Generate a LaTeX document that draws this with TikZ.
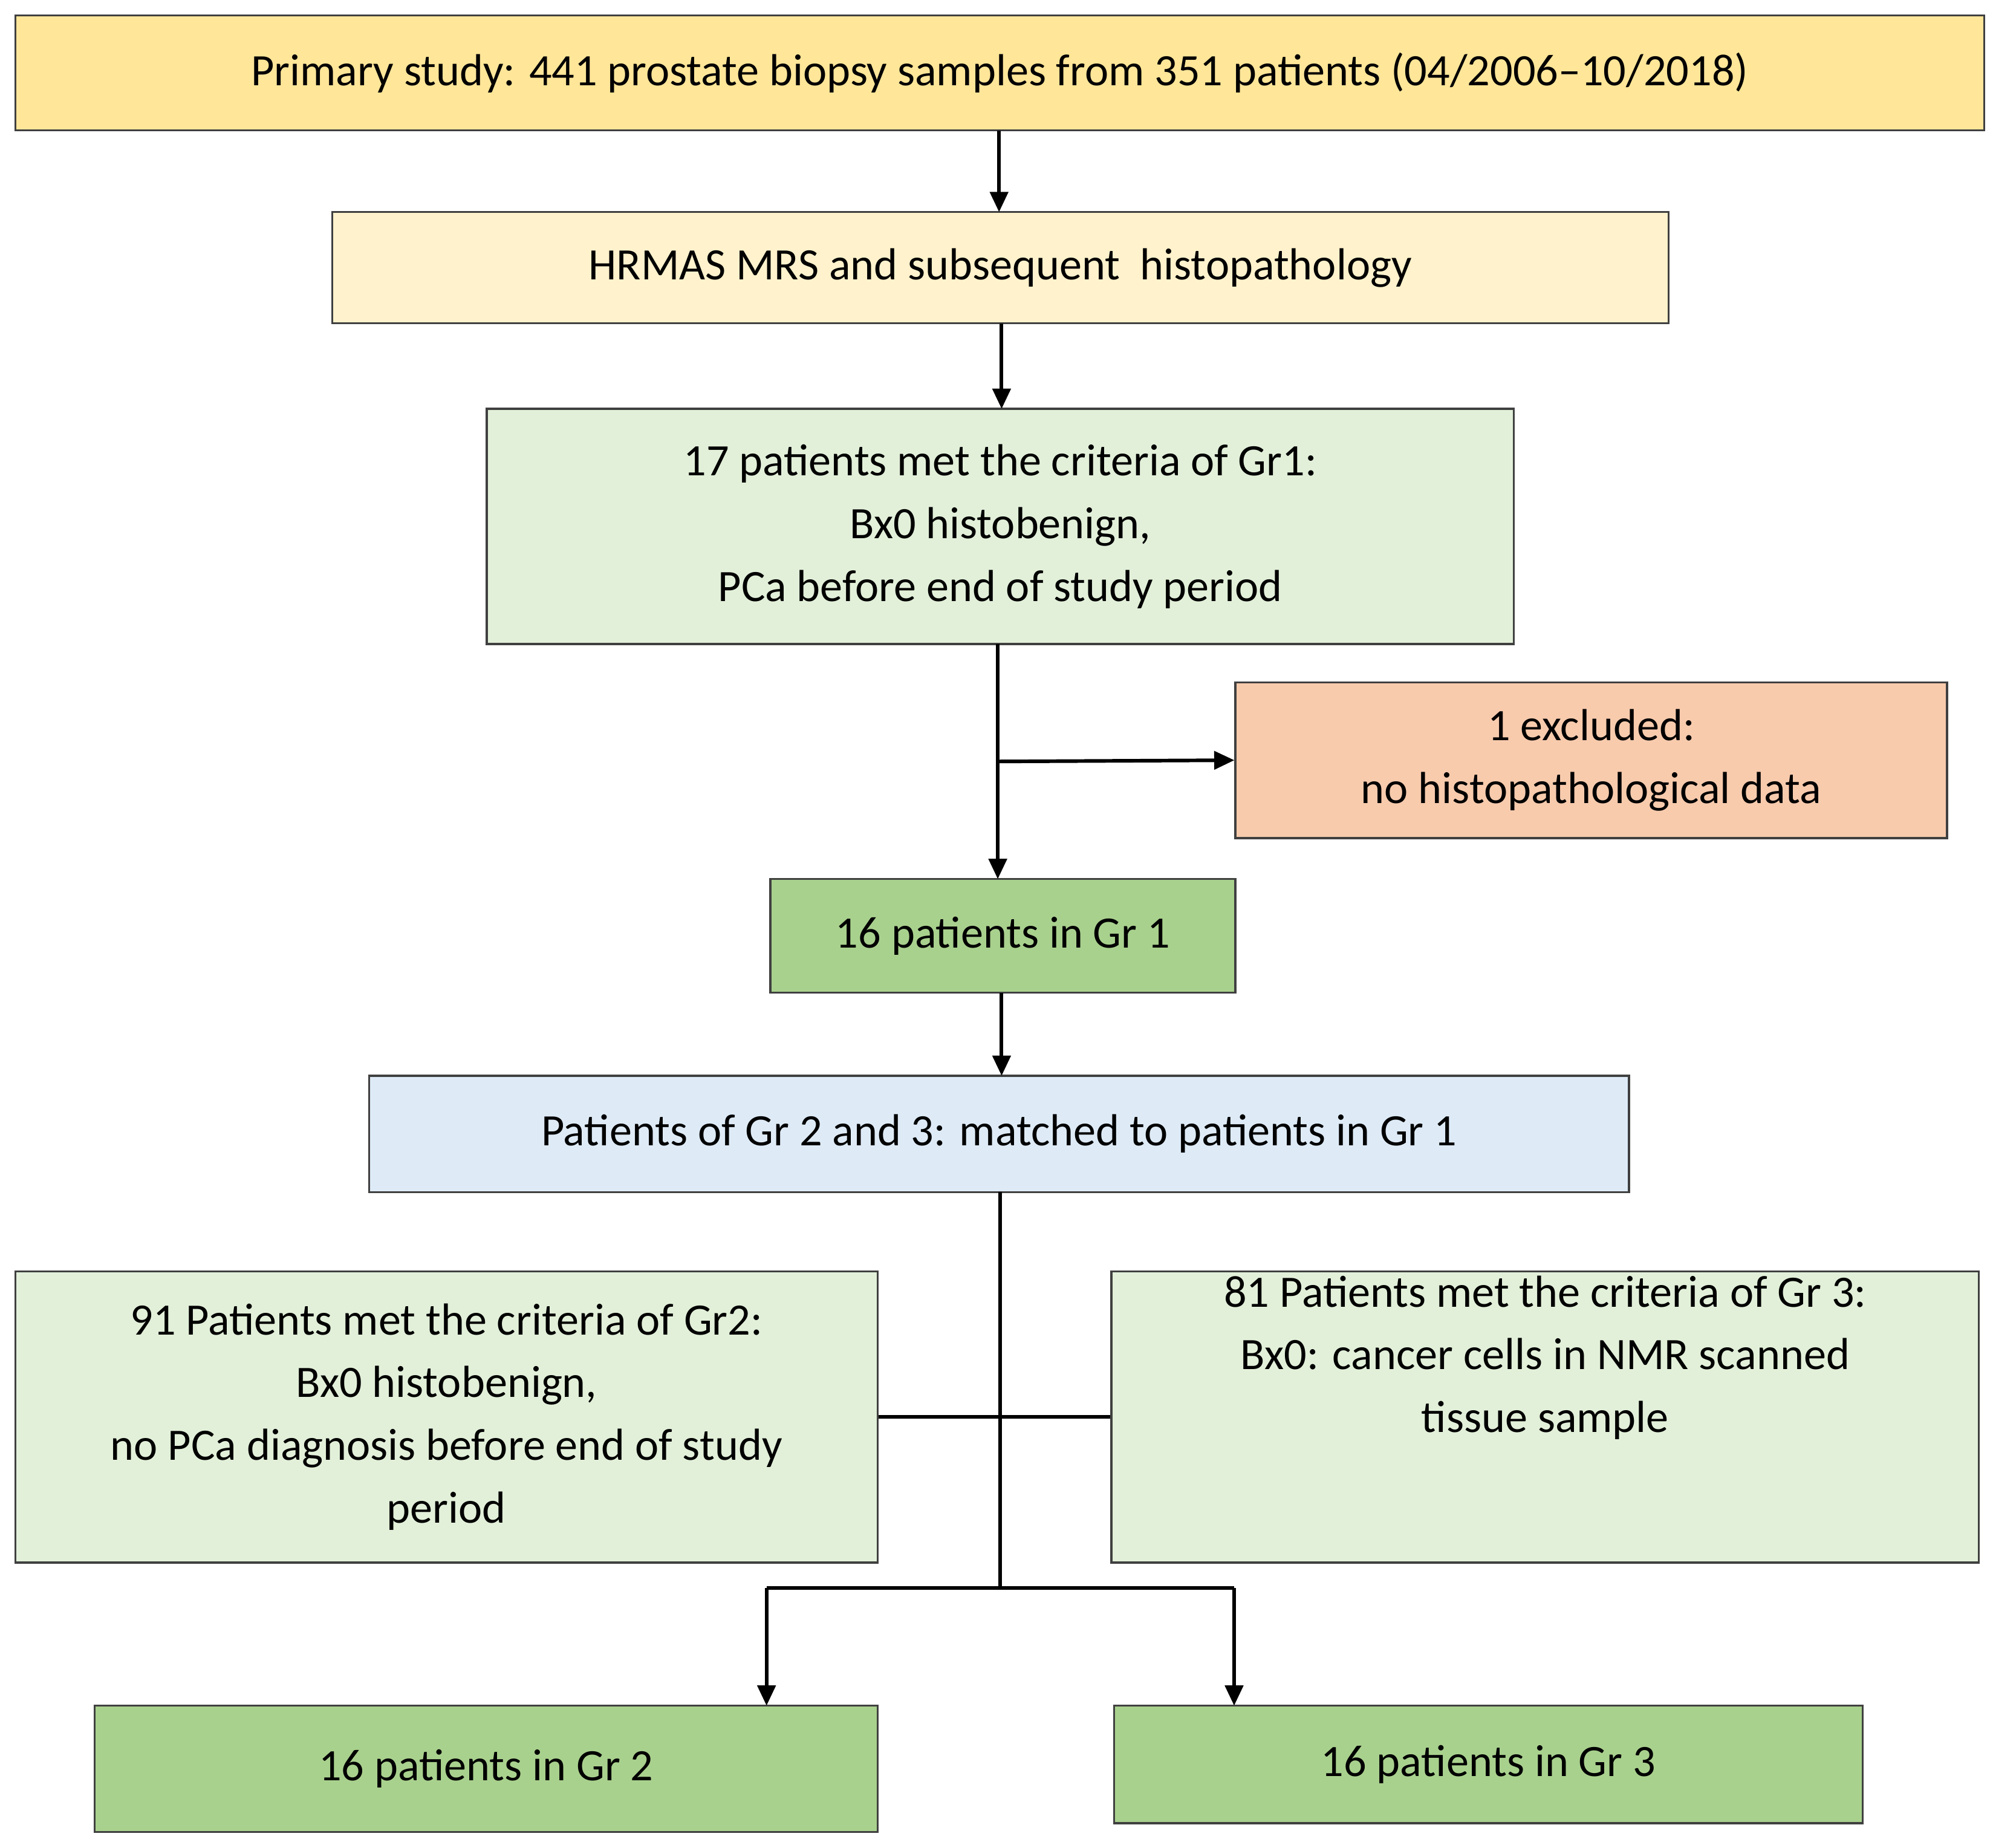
\documentclass[tikz,border=0pt]{standalone}
\usepackage{fontspec}
\setmainfont{Carlito}
\usetikzlibrary{arrows.meta}
\definecolor{cgold}{HTML}{FFE699}
\definecolor{cpale}{HTML}{FFF2CC}
\definecolor{cgl}{HTML}{E2F0D9}
\definecolor{cgd}{HTML}{A9D18E}
\definecolor{cor}{HTML}{F8CBAD}
\definecolor{cbl}{HTML}{DEEBF7}
\begin{document}
\begin{tikzpicture}[x=0.02cm,y=-0.02cm,
  bx/.style={draw=black!75,line width=0.9pt,inner sep=0pt,align=center,font=\fontsize{20}{28}\selectfont},
  ln/.style={line width=1.6pt,black},
  ar/.style={ln,-{Triangle[length=9pt,width=8pt]}}]
\useasboundingbox (0,0) rectangle (1560,1446);
\newcommand\bxat[6]{\node[bx,fill=#5,minimum width={(#3-#2)*0.02cm},minimum height={(#4-#1)*0.02cm}] (#6) at ({(#2+#3)/2},{(#1+#4)/2})}
\bxat{12}{12}{1553}{102}{cgold}{p} {Primary study: 441 prostate biopsy samples from 351 patients (04/2006--10/2018)};
\bxat{166}{260}{1306}{253}{cpale}{h} {HRMAS MRS and subsequent \ histopathology};
\bxat{320}{381}{1185}{504}{cgl}{c1} {17 patients met the criteria of Gr1:\\Bx0 histobenign,\\PCa before end of study period};
\bxat{534}{967}{1524}{656}{cor}{ex} {1 excluded:\\no histopathological data};
\bxat{688}{603}{967}{777}{cgd}{g1} {16 patients in Gr 1};
\bxat{842}{289}{1275}{933}{cbl}{m} {Patients of Gr 2 and 3: matched to patients in Gr 1};
\bxat{995}{12}{687}{1223}{cgl}{c2} {91 Patients met the criteria of Gr2:\\Bx0 histobenign,\\no PCa diagnosis before end of study\\period};
\bxat{995}{870}{1549}{1223}{cgl}{c3} {81 Patients met the criteria of Gr 3:\\Bx0: cancer cells in NMR scanned\\tissue sample\\[28pt]};
\bxat{1335}{74}{687}{1434}{cgd}{g2} {16 patients in Gr 2};
\bxat{1335}{872}{1458}{1427}{cgd}{g3} {16 patients in Gr 3};
\coordinate (j1) at (781,596);
\coordinate (j2) at (783,1086);
\coordinate (j3) at (783,1243);
\coordinate (l2) at (600,1243);
\coordinate (l3) at (966,1243);
\draw[ar] (782,102) -- (782,166);
\draw[ar] (784,253) -- (784,320);
\draw[ar] (781,504) -- (781,688);
\draw[ar] (j1) -- (ex.west);
\draw[ar] (784,777) -- (784,842);
\draw[ln] (783,933) -- (j3);
\draw[ln] (c2.east) -- (c3.west);
\draw[ln] (l2) -- (l3);
\draw[ar] (l2) -- (600,1335);
\draw[ar] (l3) -- (966,1335);
\end{tikzpicture}
\end{document}
